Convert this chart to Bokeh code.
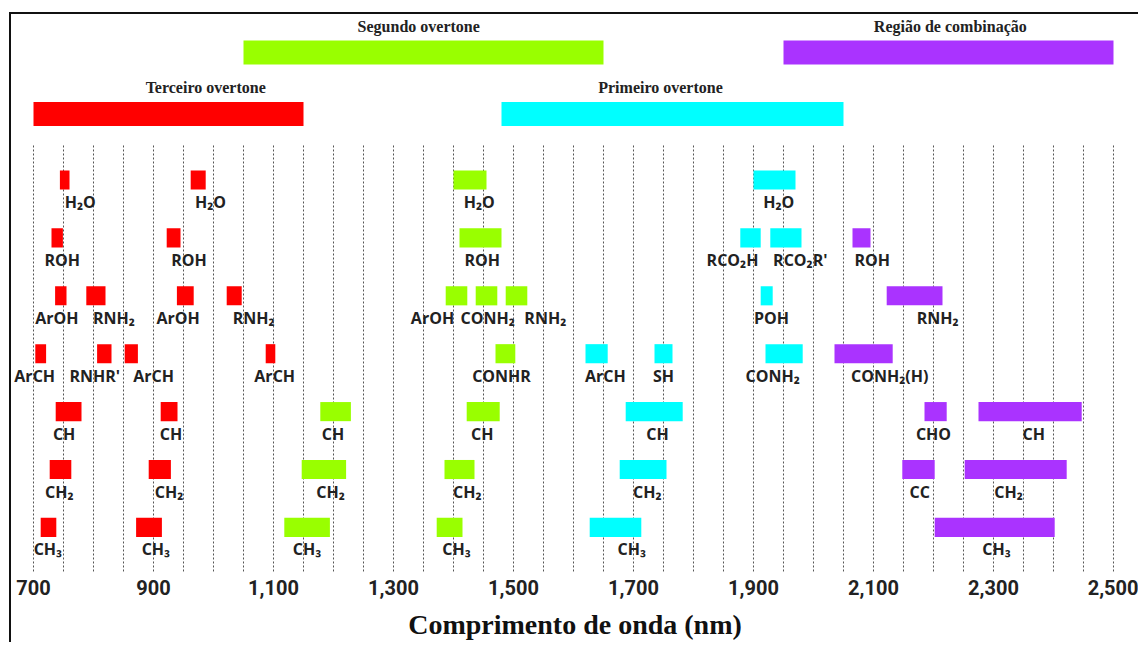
from bokeh.plotting import figure
from bokeh.models import Range1d, FixedTicker, NumeralTickFormatter, ColumnDataSource
from bokeh.core.properties import value
from bokeh.embed import file_html
from bokeh.resources import INLINE

# ---------------- data ----------------
region_names = ["Terceiro overtone", "Segundo overtone", "Primeiro overtone", "Região de combinação"]
region_start = [700, 1050, 1480, 1950]
region_end = [1150, 1650, 2050, 2500]
region_tier = [2, 1, 2, 1]
region_title_x = [987, 1342, 1745, 2228]
region_colors = ["#FF0000", "#99FF00", "#00FFFF", "#AA33FF"]

band_label = [
    "H₂O", "H₂O", "H₂O", "H₂O",
    "ROH", "ROH", "ROH", "RCO₂H", "RCO₂R'", "ROH",
    "ArOH", "RNH₂", "ArOH", "RNH₂", "ArOH", "CONH₂", "RNH₂", "POH", "RNH₂",
    "ArCH", "RNHR'", "ArCH", "ArCH", "CONHR", "ArCH", "SH", "CONH₂", "CONH₂(H)",
    "CH", "CH", "CH", "CH", "CH", "CHO", "CH",
    "CH₂", "CH₂", "CH₂", "CH₂", "CH₂", "CC", "CH₂",
    "CH₃", "CH₃", "CH₃", "CH₃", "CH₃", "CH₃",
]
band_start = [
    744, 962, 1400, 1900,
    730, 922, 1410, 1878, 1928, 2065,
    736, 788, 939, 1022, 1387, 1437, 1487, 1912, 2122,
    703, 806, 852, 1087, 1470, 1620, 1735, 1920, 2035,
    737, 912, 1178, 1422, 1687, 2185, 2275,
    727, 892, 1147, 1385, 1677, 2148, 2252,
    712, 871, 1118, 1372, 1627, 2202,
]
band_end = [
    760, 987, 1455, 1970,
    749, 945, 1480, 1912, 1980, 2095,
    755, 820, 967, 1047, 1423, 1473, 1523, 1932, 2215,
    721, 830, 874, 1103, 1503, 1657, 1765, 1982, 2132,
    780, 940, 1229, 1477, 1782, 2222, 2447,
    763, 929, 1221, 1435, 1755, 2202, 2422,
    738, 914, 1194, 1415, 1713, 2402,
]
band_row = [1] * 4 + [2] * 6 + [3] * 9 + [4] * 9 + [5] * 7 + [6] * 7 + [7] * 6
band_region = [
    0, 0, 1, 2,
    0, 0, 1, 2, 2, 3,
    0, 0, 0, 0, 1, 1, 1, 2, 3,
    0, 0, 0, 0, 1, 2, 2, 2, 3,
    0, 0, 1, 1, 2, 3, 3,
    0, 0, 1, 1, 2, 3, 3,
    0, 0, 1, 1, 2, 3,
]
band_label_x = [
    778, 995, 1443, 1942,
    748, 959, 1448, 1865, 1978, 2098,
    739, 834, 941, 1067, 1365, 1457, 1553, 1930, 2207,
    702, 802, 900, 1102, 1480, 1653, 1750, 1932, 2127,
    751, 929, 1199, 1448, 1740, 2200, 2367,
    743, 926, 1195, 1423, 1723, 2177, 2325,
    724, 904, 1156, 1405, 1697, 2305,
]

tick_values = [700, 900, 1100, 1300, 1500, 1700, 1900, 2100, 2300, 2500]
grid_values = list(range(700, 2501, 50))

# ---------------- figure ----------------
tier_y = {1: -1.2, 2: -0.14}

p = figure(
    frame_width=1127, frame_height=560,
    x_range=Range1d(663.33, 2541.67),
    y_range=Range1d(7.813, -1.858),
    output_backend="svg", toolbar_location=None,
    y_axis_location=None, min_border=0,
    background_fill_color="white", border_fill_color="white",
)
p.outline_line_color = None
p.xgrid.visible = False
p.ygrid.visible = False
p.styles = {"border-left": "2px solid #111", "border-top": "2px solid #111",
            "margin-left": "9px", "margin-top": "12px"}

# dotted grid lines
p.segment(x0=grid_values, x1=grid_values, y0=[0.404] * len(grid_values), y1=[7.78] * len(grid_values),
          line_color="#555555", line_width=1, line_dash="2 2")

# top region bars
reg_src = ColumnDataSource(dict(
    left=region_start, right=region_end,
    y=[tier_y[t] for t in region_tier],
    color=region_colors, name=region_names, tx=region_title_x,
))
p.hbar(y="y", left="left", right="right", height=0.415, fill_color="color",
       line_color=None, source=reg_src)
p.text(x="tx", y="y", text="name", source=reg_src, y_offset=-26,
       text_align="center", text_baseline="middle",
       text_font=value("Liberation Serif"), text_font_style="bold",
       text_font_size="16px", text_color="#222222")

# bands
band_src = ColumnDataSource(dict(
    left=band_start, right=band_end, y=band_row,
    color=[region_colors[i] for i in band_region],
    label=band_label, lx=band_label_x,
))
p.hbar(y="y", left="left", right="right", height=0.33, fill_color="color",
       line_color=None, source=band_src)
p.text(x="lx", y="y", text="label", source=band_src, y_offset=22,
       text_align="center", text_baseline="middle",
       text_font=value("Open Sans"), text_font_style="bold",
       text_font_size="16px", text_color="#222222")

# x axis
ax = p.xaxis[0]
ax.ticker = FixedTicker(ticks=tick_values)
ax.formatter = NumeralTickFormatter(format="0,0")
ax.axis_line_color = None
ax.major_tick_line_color = None
ax.minor_tick_line_color = None
ax.major_tick_out = 0
ax.major_tick_in = 0
ax.major_label_standoff = 5
ax.major_label_text_font = "Roboto"
ax.major_label_text_font_style = "bold"
ax.major_label_text_font_size = "20px"
ax.major_label_text_color = "#222222"
ax.axis_label = "Comprimento de onda (nm)"
ax.axis_label_text_font = "Liberation Serif"
ax.axis_label_text_font_style = "bold"
ax.axis_label_text_font_size = "28px"
ax.axis_label_text_color = "#111111"
ax.axis_label_standoff = 11

open("out.html", "w").write(file_html(p, INLINE))
